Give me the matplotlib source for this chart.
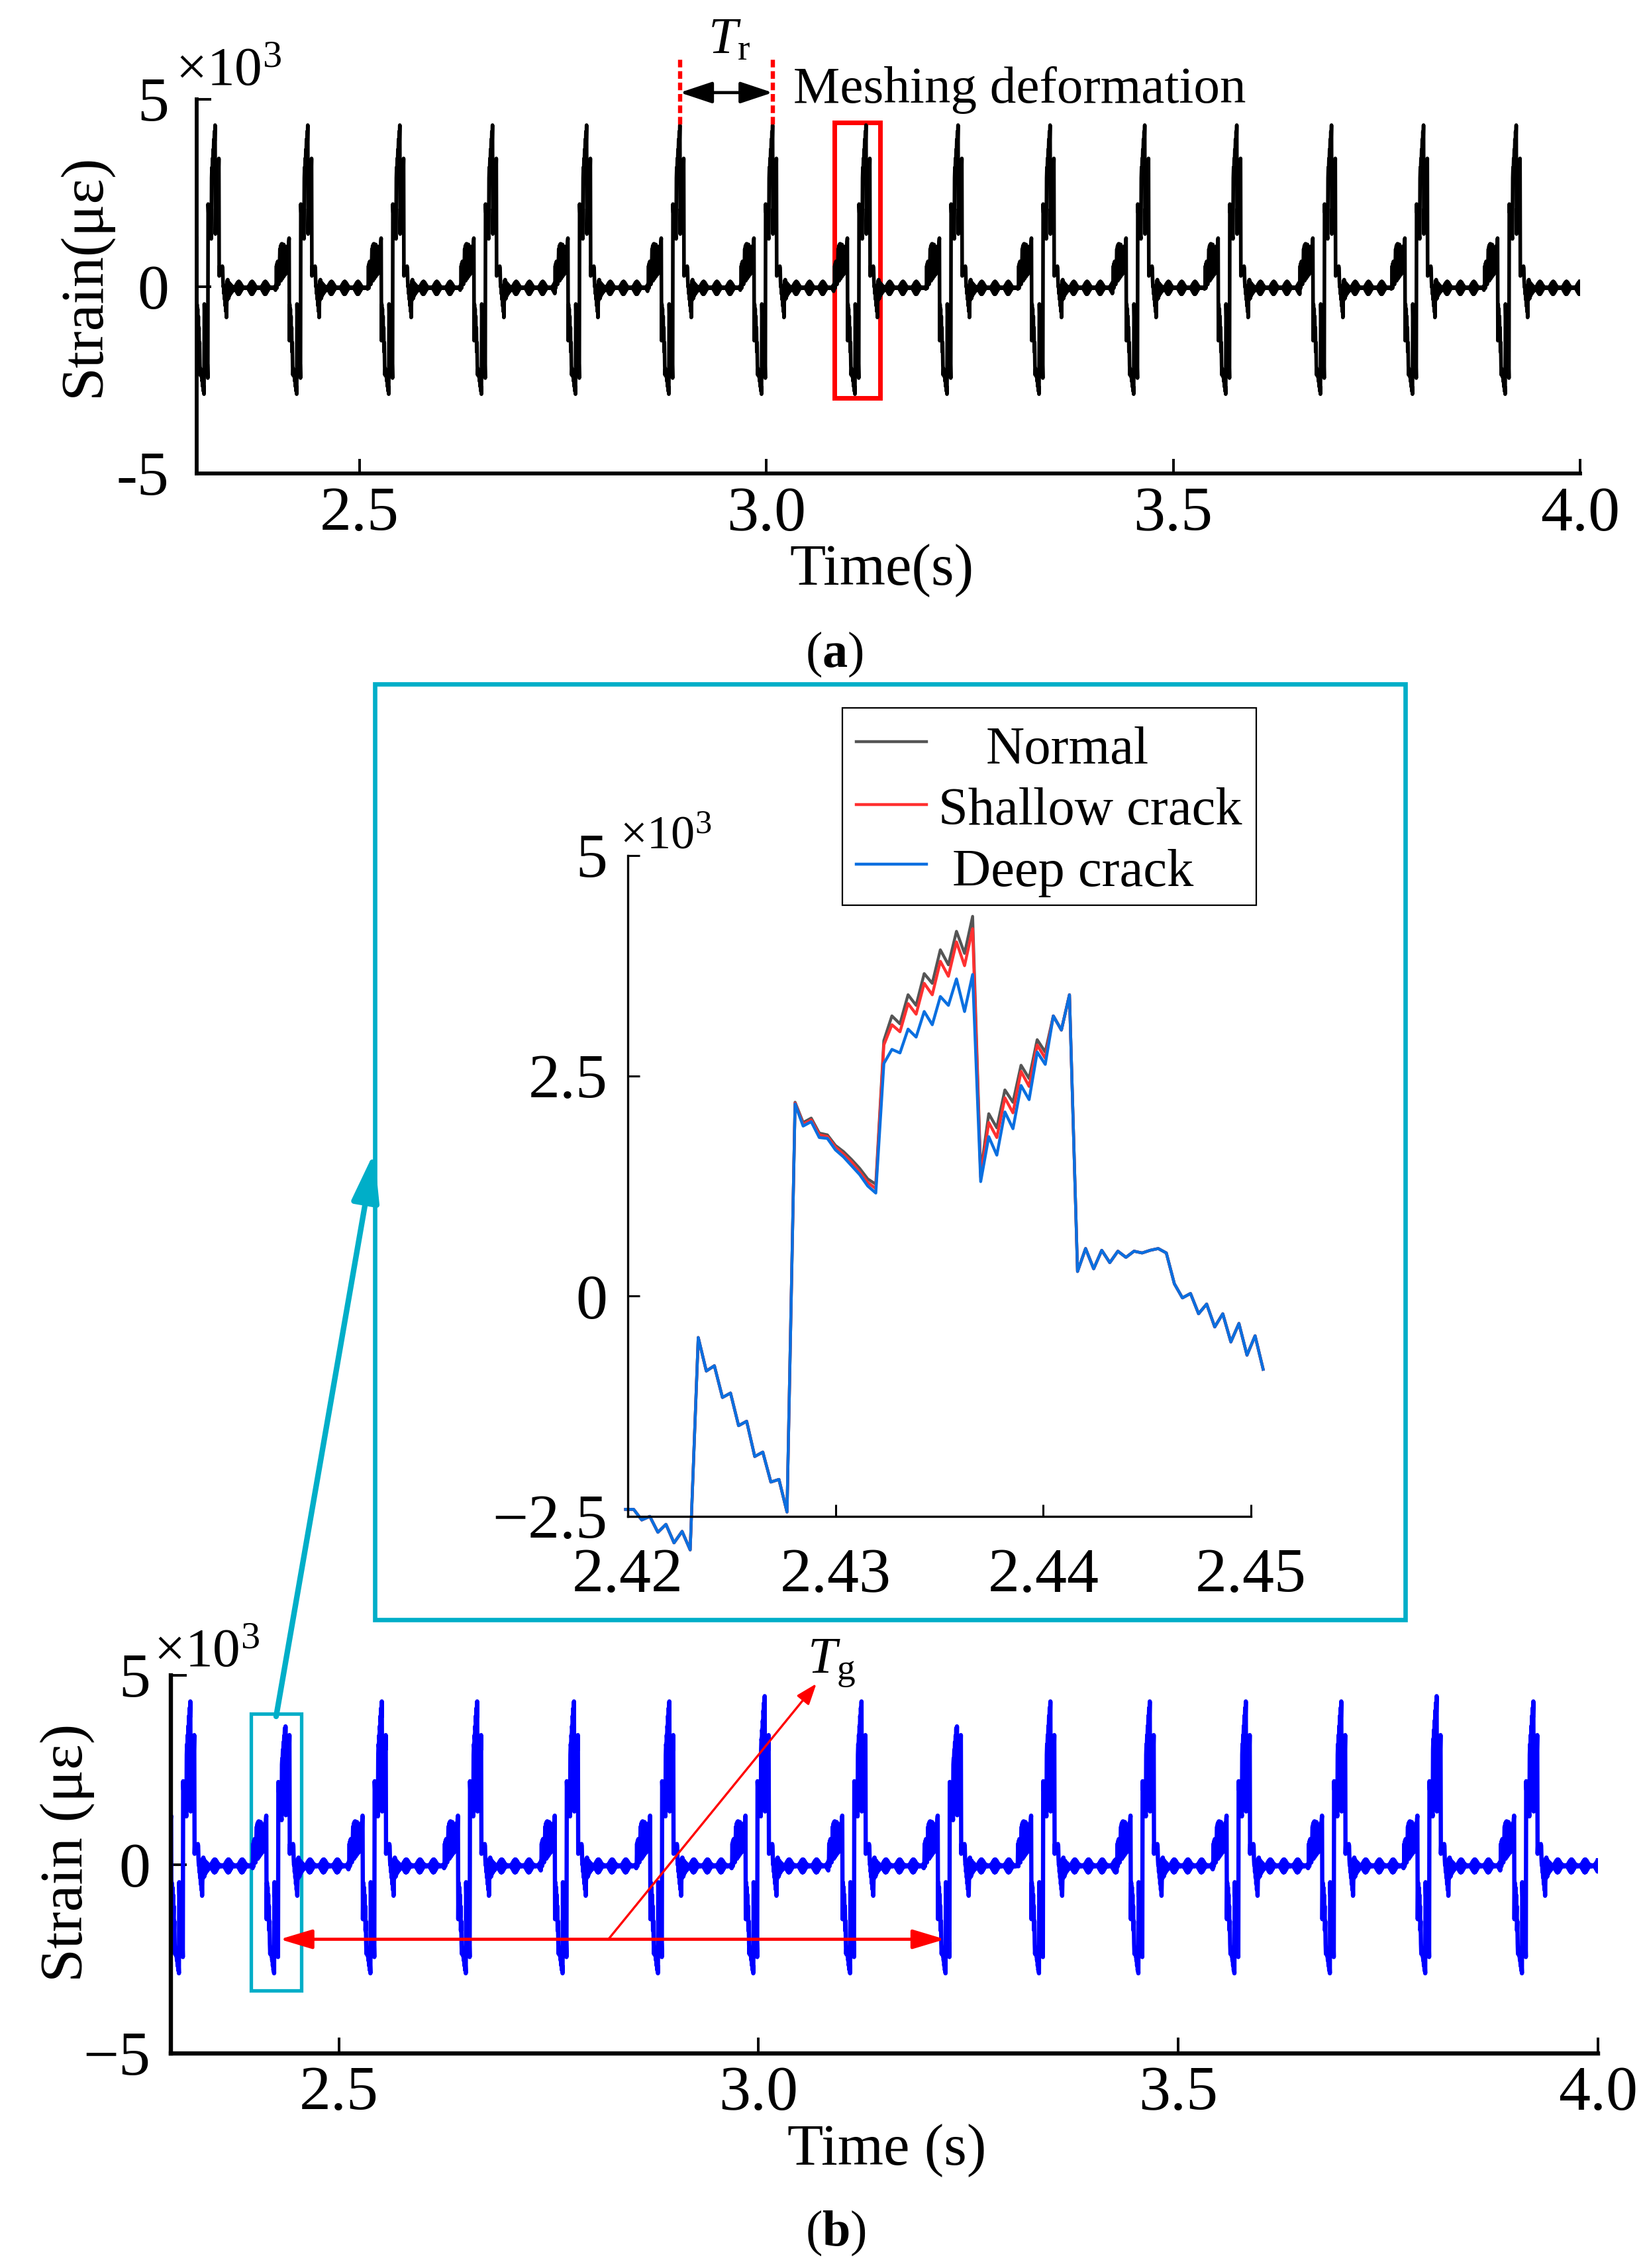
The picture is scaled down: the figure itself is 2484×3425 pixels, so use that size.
import numpy as np
import matplotlib
matplotlib.use('Agg')
import matplotlib.pyplot as plt
from matplotlib.patches import Rectangle, FancyArrowPatch
from matplotlib.lines import Line2D

plt.rcParams['font.family'] = ['Liberation Serif', 'DejaVu Serif']
plt.rcParams['mathtext.fontset'] = 'custom'
plt.rcParams['mathtext.rm'] = 'Liberation Serif'
plt.rcParams['mathtext.it'] = 'Liberation Serif:italic'
plt.rcParams['mathtext.bf'] = 'Liberation Serif:bold'

# sample step of the strain record (s)
dt = 0.0003885

# peak time of every meshing cycle (a) and panel (b)
peaks_a = [2.3226, 2.4365, 2.5496, 2.6635, 2.7791, 2.8938, 3.0077, 3.1225,
           3.2356, 3.3487, 3.4650, 3.5781, 3.6945, 3.8076, 3.9215]
peaks_b = [2.3232, 2.4366, 2.5513, 2.6649, 2.7802, 2.8938, 3.0074, 3.1227,
           3.2364, 3.3477, 3.4661, 3.5805, 3.6942, 3.8078, 3.9230]
# which cycles in (b) pass the cracked tooth, and extra peak height of some cycles
kind_b = ['normal', 'deep', 'normal', 'normal', 'normal', 'normal', 'normal', 'normal',
          'deep', 'normal', 'normal', 'normal', 'normal', 'normal', 'normal']
boost_b = [0, 0, 0, 0, 0, 0, 0.14, 0, 0, 0, 0, 0, 0, 0.14, 0]

# one meshing cycle (x10^3 micro strain), sample 100 is the peak
pre1 = [0.00, 0.55, -0.05, 0.62, 0.05, 0.67, 0.10, 0.64, 0.05, 0.60, 0.15, 0.66]
pre2 = [1.00, 0.20, 1.08, 0.15, 1.12, 0.25, 1.14, 0.20, 1.10, 0.30, 1.05, 0.25,
        1.12, 0.35, 1.08, 0.30, 0.70, 0.32, 0.75, 0.35, 0.80, 0.40, 0.90, 0.45,
        1.00, 0.50, 1.10, 0.60, 1.20, 1.29]
neg0 = [-1.45, -0.48, -0.95, -0.60, -1.20, -0.80, -1.40, -1.10, -1.75, -1.50, -2.10, -2.37]
ramp1 = [-2.20, -2.36, -2.28, -2.42, -2.42, -2.54, -2.50, -2.68, -2.59, -2.80, -2.67, -2.88]
ramp2 = [-0.47, -0.85, -0.79, -1.15, -1.10, -1.47, -1.42, -1.82, -1.77, -2.11, -2.08, -2.45]
ramp3 = {'normal': [2.20, 1.97, 2.02, 1.85, 1.83, 1.71, 1.64, 1.55, 1.45, 1.33, 1.27],
         'shallow': [2.19, 1.95, 2.00, 1.83, 1.81, 1.69, 1.61, 1.52, 1.41, 1.29, 1.22],
         'deep': [2.18, 1.93, 1.98, 1.80, 1.79, 1.66, 1.58, 1.48, 1.38, 1.25, 1.17]}
ramp4 = {'normal': [2.90, 3.18, 3.09, 3.42, 3.30, 3.66, 3.55, 3.93, 3.76, 4.14, 3.89, 4.31],
         'shallow': [2.85, 3.08, 3.00, 3.32, 3.20, 3.55, 3.42, 3.80, 3.63, 4.02, 3.75, 4.17],
         'deep': [2.64, 2.80, 2.76, 3.03, 2.94, 3.23, 3.08, 3.40, 3.30, 3.60, 3.23, 3.65]}
ramp5 = {'normal': [1.40, 2.07, 1.91, 2.34, 2.20, 2.62, 2.47, 2.91, 2.77, 3.18, 3.02, 3.42],
         'shallow': [1.35, 1.97, 1.80, 2.25, 2.08, 2.55, 2.38, 2.85, 2.70, 3.18, 3.02, 3.42],
         'deep': [1.30, 1.81, 1.60, 2.09, 1.90, 2.39, 2.23, 2.77, 2.63, 3.18, 3.02, 3.42]}
ramp6 = [0.28, 0.54, 0.31, 0.52, 0.38, 0.51, 0.44, 0.51, 0.49, 0.52, 0.54, 0.49]
ramp7 = [0.14, -0.02, 0.03, -0.20, -0.09, -0.35, -0.20, -0.52, -0.31, -0.67, -0.45, -0.83]
tail = [-0.40, 0.15, -0.36, 0.18, -0.30, 0.12, -0.32, 0.10, -0.26, 0.08, -0.22, 0.05,
        -0.20, 0.04, -0.17, 0.02, -0.15, 0.00, -0.13, -0.01, -0.11, -0.02, -0.09, -0.03]
# idle part between meshings (beating ripple)
bead = [-0.04, -0.03, -0.07, 0.00, -0.10, 0.03, -0.13, 0.06, -0.16, 0.09, -0.19, 0.11,
        -0.21, 0.13, -0.21, 0.13, -0.20, 0.11, -0.17, 0.09, -0.14, 0.06, -0.11, 0.03,
        -0.08, 0.01, -0.06, -0.01, -0.05, -0.02, -0.04, -0.03, -0.05, -0.02, -0.05, -0.03,
        -0.04, -0.03, -0.05, -0.02, -0.04, -0.03]

r = np.arange(-100, 61)


def cycle(kind, boost=0.0):
    return np.concatenate([pre1, pre2, neg0, ramp1, ramp2, ramp3[kind],
                           np.array(ramp4[kind]) + boost, ramp5[kind],
                           ramp6, ramp7, tail])


def record(peaks, kinds, boosts):
    ts, ys = [], []
    prev = peaks[0] - 101 * dt
    for tp, kd, bo in zip(peaks, kinds, boosts):
        start = tp - 100 * dt
        n = int(round((start - prev) / dt)) - 1
        if n > 0:
            ts.append(prev + dt * np.arange(1, n + 1))
            ys.append(np.resize(bead, n))
        ts.append(tp + r * dt)
        ys.append(cycle(kd, bo))
        prev = tp + 60 * dt
    n = int(round((4.0 - prev) / dt))
    ts.append(prev + dt * np.arange(1, n + 1))
    ys.append(np.resize(bead, n))
    return np.concatenate(ts), np.concatenate(ys)


ta, ya = record(peaks_a, ['normal'] * 15, [0] * 15)
tb, yb = record(peaks_b, kind_b, boost_b)

W, H = 2484, 3425
fig = plt.figure(figsize=(W / 100, H / 100), dpi=100)


def fx(px):
    return px / W


def fy(py):
    return 1 - py / H


def box(l, t, rr, b):
    return [fx(l), fy(b), (rr - l) / W, (b - t) / H]


def style(ax, lw, tlen, tw):
    for s in ['top', 'right']:
        ax.spines[s].set_visible(False)
    for s in ['left', 'bottom']:
        ax.spines[s].set_linewidth(lw)
    ax.tick_params(direction='in', length=tlen, width=tw, labelsize=69)


cyan = '#00aec8'

# ---- panel (a)
ax_a = fig.add_axes(box(297, 150, 2386, 715))
ax_a.plot(ta, ya, color='black', lw=4.0)
ax_a.set_xlim(2.3, 4.0)
ax_a.set_ylim(-5, 5)
ax_a.set_xticks([2.5, 3.0, 3.5, 4.0], ['2.5', '3.0', '3.5', '4.0'])
ax_a.set_yticks([-5, 0, 5], ['-5', '0', '5'])
style(ax_a, 4.2, 16, 2.8)
ax_a.tick_params(axis='x', pad=14)
ax_a.tick_params(axis='y', pad=30)

tr_l, tr_r = peaks_a[5], peaks_a[6]
for tx in (tr_l, tr_r):
    ax_a.plot([tx, tx], [4.32, 6.13], color='red', lw=4.6, ls=(0, (1.8, 0.9)), clip_on=False)
ax_a.annotate('', xy=(tr_r, 5.18), xytext=(tr_l, 5.18), annotation_clip=False,
              arrowprops=dict(arrowstyle='<|-|>,head_length=0.6,head_width=0.2',
                              mutation_scale=50, lw=3.4, color='black', shrinkA=0, shrinkB=0))
ax_a.text(2.928, 6.23, r'$T_{\mathrm{r}}$', fontsize=57, ha='left', va='baseline', clip_on=False)
ax_a.text(3.033, 4.91, 'Meshing deformation', fontsize=57, ha='left', va='baseline', clip_on=False)
ax_a.add_patch(Rectangle((3.0835, -2.98), 0.0565, 7.36, fill=False, ec='red', lw=5, clip_on=False))

fig.text(fx(265), fy(128), '×10$^{3}$', fontsize=60, ha='left', va='baseline')
fig.text(fx(127), fy(415), 'Strain(με)', fontsize=66, rotation=90, ha='center', va='center')
fig.text(fx(1331), fy(883), 'Time(s)', fontsize=64, ha='center', va='baseline')
fig.text(fx(1260), fy(988), r'($\mathbf{a}$)', fontsize=55, ha='center', va='center')

# ---- zoomed view
fig.add_artist(Rectangle((fx(566), fy(2446)), (2122 - 566) / W, (2446 - 1033) / H,
                         transform=fig.transFigure, fill=False, ec=cyan, lw=4.8))

ax_in = fig.add_axes(box(948, 1292, 1889, 2290))
t_in = peaks_b[1] + r[57:137] * dt
ax_in.plot(t_in, cycle('normal')[57:137], color='#555555', lw=3.2, clip_on=False)
ax_in.plot(t_in, cycle('shallow')[57:137], color='#ff3030', lw=3.2, clip_on=False)
ax_in.plot(t_in, cycle('deep')[57:137], color='#0a6fe0', lw=3.2, clip_on=False)
ax_in.set_xlim(2.42, 2.45)
ax_in.set_ylim(-2.5, 5)
ax_in.set_xticks([2.42, 2.43, 2.44, 2.45], ['2.42', '2.43', '2.44', '2.45'])
ax_in.set_yticks([-2.5, 0, 2.5, 5], ['−2.5', '0', '2.5', '5'])
style(ax_in, 2.4, 13, 2.2)
ax_in.tick_params(axis='x', pad=34)
ax_in.tick_params(axis='y', pad=22)
fig.text(fx(936), fy(1282), '×10$^{3}$', fontsize=52, ha='left', va='baseline')

# legend of the zoomed view
fig.add_artist(Rectangle((fx(1272), fy(1367)), (1897 - 1272) / W, (1367 - 1069) / H,
                         transform=fig.transFigure, fc='white', ec='black', lw=1.6, zorder=5))
leg_names = ['Normal', 'Shallow crack', 'Deep crack']
leg_colors = ['#555555', '#ff3030', '#0a6fe0']
leg_line_y = [1120, 1215, 1305]
leg_text_x = [1612, 1646, 1620]
leg_text_y = [1153, 1245, 1338]
for nm, cl, ly, tx, tyy in zip(leg_names, leg_colors, leg_line_y, leg_text_x, leg_text_y):
    fig.add_artist(Line2D([fx(1293), fx(1399)], [fy(ly), fy(ly)], transform=fig.transFigure,
                          color=cl, lw=3.2, zorder=6))
    fig.text(fx(tx), fy(tyy), nm, fontsize=58, ha='center', va='baseline', zorder=6)

fig.add_artist(FancyArrowPatch((fx(417), fy(2592)), (fx(565), fy(1740)), transform=fig.transFigure,
                               arrowstyle='-|>,head_length=1.0,head_width=0.28',
                               mutation_scale=45, lw=6, color=cyan, shrinkA=0, shrinkB=0))

# ---- panel (b)
ax_b = fig.add_axes(box(258, 2530, 2413, 3101))
ax_b.plot(tb, yb, color='#0000ff', lw=4.6)
ax_b.set_xlim(2.3, 4.0)
ax_b.set_ylim(-5, 5)
ax_b.set_xticks([2.5, 3.0, 3.5, 4.0], ['2.5', '3.0', '3.5', '4.0'])
ax_b.set_yticks([-5, 0, 5], ['−5', '0', '5'])
style(ax_b, 4.6, 17, 2.8)
ax_b.tick_params(axis='x', pad=13)
ax_b.tick_params(axis='y', pad=22)

ax_b.add_patch(Rectangle((2.3955, -3.33), 0.060, 7.31, fill=False, ec=cyan, lw=3.8, clip_on=False))
ax_b.annotate('', xy=(3.2222, -1.98), xytext=(2.4298, -1.98), annotation_clip=False,
              arrowprops=dict(arrowstyle='<|-|>,head_length=0.6,head_width=0.18',
                              mutation_scale=50, lw=3.4, color='red', shrinkA=0, shrinkB=0))
ax_b.annotate('', xy=(3.069, 4.78), xytext=(2.8212, -1.98), annotation_clip=False,
              arrowprops=dict(arrowstyle='-|>,head_length=0.6,head_width=0.22',
                              mutation_scale=32, lw=2.4, color='red', shrinkA=0, shrinkB=0))
ax_b.text(3.058, 5.07, r'$T_{\mathrm{g}}$', fontsize=57, ha='left', va='baseline', clip_on=False)

fig.text(fx(232), fy(2516), '×10$^{3}$', fontsize=60, ha='left', va='baseline')
fig.text(fx(102), fy(2798), 'Strain (με)', fontsize=66, rotation=90, ha='center', va='center')
fig.text(fx(1339), fy(3269), 'Time (s)', fontsize=64, ha='center', va='baseline')
fig.text(fx(1262), fy(3372), r'($\mathbf{b}$)', fontsize=55, ha='center', va='center')

fig.savefig('out.png', dpi=100)
